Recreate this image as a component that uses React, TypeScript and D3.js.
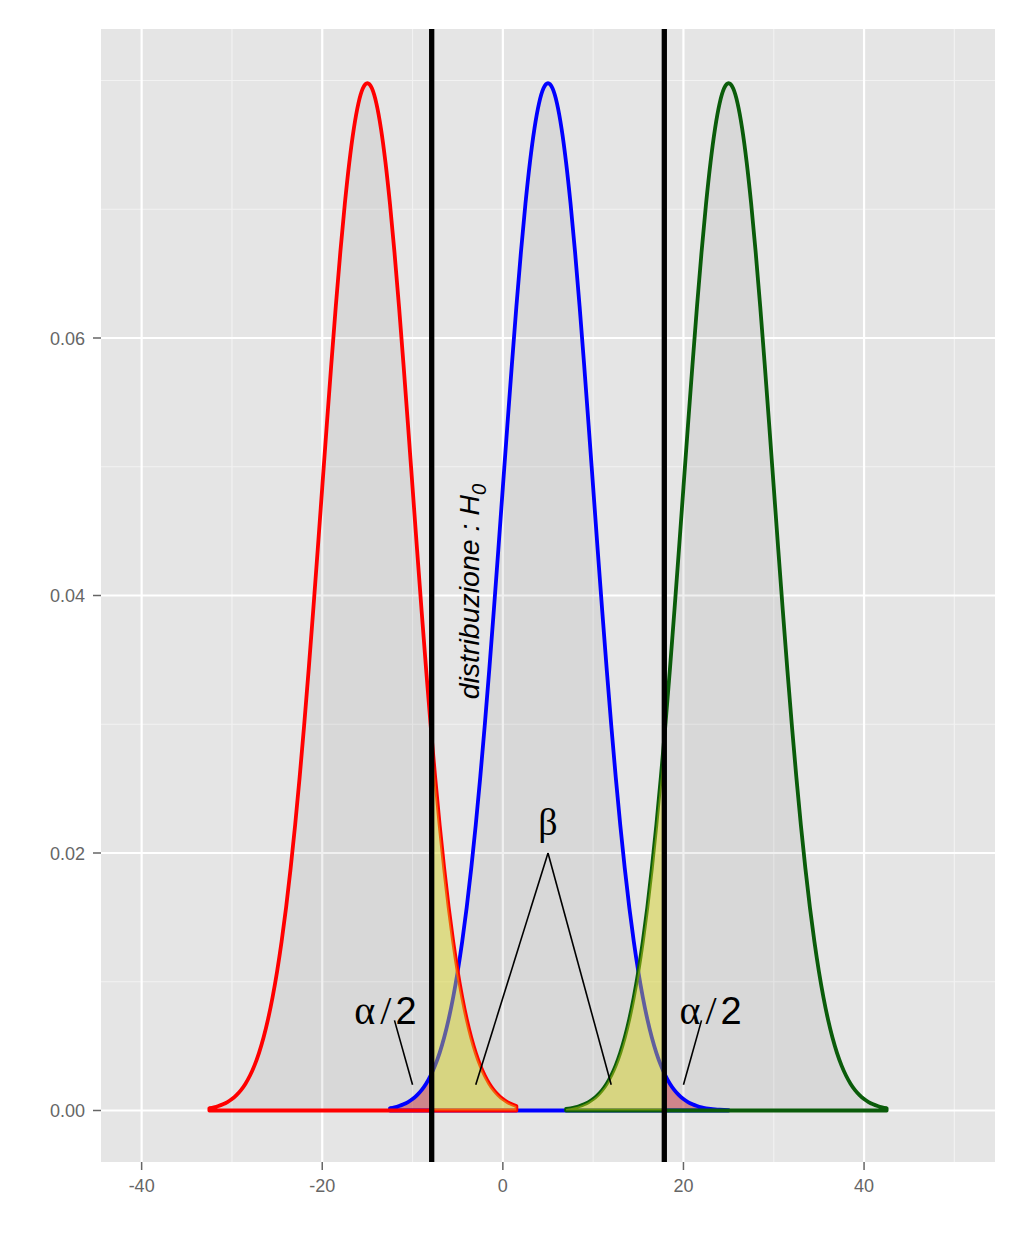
import React from "react";
import * as d3 from "d3";

// ---- data ----
const xTicks = [-40, -20, 0, 20, 40];
const xTickLabels = ["-40", "-20", "0", "20", "40"];
const xMinor = [-30, -10, 10, 30, 50];
const yTicks = [0, 0.02, 0.04, 0.06];
const yTickLabels = ["0.00", "0.02", "0.04", "0.06"];
const yMinor = [0.01, 0.03, 0.05, 0.07, 0.08];

// shared curve shape: distance from the centre -> density
const profileOffsets = [
  0, 0.5, 1, 1.5, 2, 2.5, 3, 3.5, 4, 4.5, 5, 5.5, 6, 6.5, 7, 7.5, 8, 8.5, 9,
  9.5, 10, 10.5, 11, 11.5, 12, 12.5, 13, 13.5, 14, 14.5, 15, 15.5, 16, 16.5,
  17, 17.5, 18, 18.5, 19, 19.5, 20,
];
const profileDensity = [
  0.079788, 0.079391, 0.078209, 0.076278, 0.073654, 0.070413, 0.066645,
  0.062451, 0.057938, 0.053217, 0.048394, 0.04357, 0.038837, 0.034274,
  0.029945, 0.025903, 0.022184, 0.01881, 0.01579, 0.013123, 0.010798,
  0.008797, 0.007095, 0.005665, 0.004479, 0.003506, 0.002717, 0.002084,
  0.001583, 0.001191, 0.000886, 0.000653, 0.000477, 0.000345, 0.000246,
  0.000175, 0.000122, 0.000085, 0.000058, 0.00004, 0.000027,
];

const seriesNames = ["sinistra", "H0", "destra"];
const seriesMeans = [-15, 5, 25];
const seriesFrom = [-17.5, -17.5, -18];
const seriesTo = [16.5, 20, 17.5];
const seriesColors = ["#ff0000", "#0000ff", "#0a5c0a"];
const drawOrder = [1, 0, 2];

const criticalValues = [-7.88, 17.88];

// ---- layout ----
const W = 1024;
const H = 1239;
const panel = { left: 101, right: 995, top: 29, bottom: 1162 };

const x = d3.scaleLinear().domain([-44.5, 54.5]).range([panel.left, panel.right]);
const y = d3.scaleLinear().domain([-0.004, 0.084]).range([panel.bottom, panel.top]);

type Pt = { x: number; y: number };

function seriesPoints(i: number): Pt[] {
  const pts: Pt[] = [];
  const m = seriesMeans[i];
  for (let k = profileOffsets.length - 1; k >= 1; k--) {
    const o = -profileOffsets[k];
    if (o >= seriesFrom[i] - 1e-9) pts.push({ x: m + o, y: profileDensity[k] });
  }
  for (let k = 0; k < profileOffsets.length; k++) {
    const o = profileOffsets[k];
    if (o <= seriesTo[i] + 1e-9) pts.push({ x: m + o, y: profileDensity[k] });
  }
  return pts;
}

const areaGen = d3
  .area<Pt>()
  .x((d) => x(d.x))
  .y0(() => y(0))
  .y1((d) => y(d.y))
  .curve(d3.curveMonotoneX);

const series = seriesNames.map((n, i) => ({
  name: n,
  color: seriesColors[i],
  path: areaGen(seriesPoints(i)) as string,
}));

export default function App() {
  const [lo, hi] = criticalValues;
  const axisCol = "#666666";
  const sans = "'Liberation Sans', Arial, sans-serif";
  const serif = "'Liberation Serif', 'Times New Roman', serif";
  return (
    <div style={{ position: "absolute", left: 0, top: 0 }}>
      <svg width={W} height={H} style={{ display: "block", background: "#fff" }}>
        <defs>
          <clipPath id="panelClip">
            <rect x={panel.left} y={panel.top} width={panel.right - panel.left} height={panel.bottom - panel.top} />
          </clipPath>
          <clipPath id="leftOfLo">
            <rect x={0} y={0} width={x(lo)} height={H} />
          </clipPath>
          <clipPath id="rightOfHi">
            <rect x={x(hi)} y={0} width={W - x(hi)} height={H} />
          </clipPath>
          <clipPath id="rightOfLo">
            <rect x={x(lo)} y={0} width={W - x(lo)} height={H} />
          </clipPath>
          <clipPath id="leftOfHi">
            <rect x={0} y={0} width={x(hi)} height={H} />
          </clipPath>
        </defs>

        {/* panel */}
        <rect x={panel.left} y={panel.top} width={panel.right - panel.left} height={panel.bottom - panel.top} fill="#e5e5e5" />
        {xMinor.map((v) => (
          <line key={"xm" + v} x1={x(v)} x2={x(v)} y1={panel.top} y2={panel.bottom} stroke="#f2f2f2" strokeWidth={1.1} />
        ))}
        {yMinor.map((v) => (
          <line key={"ym" + v} y1={y(v)} y2={y(v)} x1={panel.left} x2={panel.right} stroke="#f2f2f2" strokeWidth={1.1} />
        ))}
        {xTicks.map((v) => (
          <line key={"xg" + v} x1={x(v)} x2={x(v)} y1={panel.top} y2={panel.bottom} stroke="#ffffff" strokeWidth={2.2} />
        ))}
        {yTicks.map((v) => (
          <line key={"yg" + v} y1={y(v)} y2={y(v)} x1={panel.left} x2={panel.right} stroke="#ffffff" strokeWidth={2.2} />
        ))}

        <g clipPath="url(#panelClip)">
          {/* grey fills */}
          {drawOrder.map((i) => (
            <path key={"f" + i} d={series[i].path} fill="#7a7a7a" fillOpacity={0.11} stroke="none" />
          ))}
          {/* pink tails of H0 */}
          <path d={series[1].path} fill="#d01020" fillOpacity={0.38} clipPath="url(#leftOfLo)" />
          <path d={series[1].path} fill="#d01020" fillOpacity={0.38} clipPath="url(#rightOfHi)" />
          {/* outlines */}
          {drawOrder.map((i) => (
            <path key={"s" + i} d={series[i].path} fill="none" stroke={series[i].color} strokeWidth={3.8} strokeLinejoin="round" />
          ))}
          {/* yellow regions */}
          <path d={series[0].path} fill="#e4e017" fillOpacity={0.42} clipPath="url(#rightOfLo)" />
          <path d={series[2].path} fill="#e4e017" fillOpacity={0.42} clipPath="url(#leftOfHi)" />
          {/* critical values */}
          {criticalValues.map((v) => (
            <line key={"cv" + v} x1={x(v)} x2={x(v)} y1={panel.top} y2={panel.bottom} stroke="#000" strokeWidth={5.3} />
          ))}
          {/* annotation segments */}
          <line x1={x(5)} y1={y(0.02)} x2={x(-3)} y2={y(0.002)} stroke="#000" strokeWidth={1.6} />
          <line x1={x(5)} y1={y(0.02)} x2={x(12)} y2={y(0.002)} stroke="#000" strokeWidth={1.6} />
          <line x1={x(-12)} y1={y(0.007)} x2={x(-10)} y2={y(0.002)} stroke="#000" strokeWidth={1.6} />
          <line x1={x(22)} y1={y(0.007)} x2={x(20)} y2={y(0.002)} stroke="#000" strokeWidth={1.6} />
        </g>

        {/* annotation texts */}
        {[-13, 23].map((v) => (
          <text key={"a" + v} x={x(v)} y={y(0.0067)} textAnchor="middle" fill="#000">
            <tspan fontFamily={serif} fontSize={40}>α</tspan>
            <tspan fontFamily={serif} fontSize={40} dx={5}>/</tspan>
            <tspan fontFamily={sans} fontSize={38} dx={4}>2</tspan>
          </text>
        ))}
        <text x={x(5)} y={y(0.0214)} textAnchor="middle" fontSize={38} fontFamily={serif} fill="#000">β</text>
        <g transform={`translate(${x(-2.6)},${y(0.0403)}) rotate(-90)`}>
          <text x={0} y={0} textAnchor="middle" fontFamily={sans} fontStyle="italic" fontSize={28.5} fill="#000">
            distribuzione : H
            <tspan fontSize={20} dy={7}>0</tspan>
          </text>
        </g>

        {/* axes */}
        {xTicks.map((v, i) => (
          <g key={"xt" + v}>
            <line x1={x(v)} x2={x(v)} y1={panel.bottom} y2={panel.bottom + 8} stroke={axisCol} strokeWidth={1.5} />
            <text x={x(v)} y={panel.bottom + 30} textAnchor="middle" fontFamily={sans} fontSize={18} fill={axisCol}>
              {xTickLabels[i]}
            </text>
          </g>
        ))}
        {yTicks.map((v, i) => (
          <g key={"yt" + v}>
            <line x1={panel.left - 8} x2={panel.left} y1={y(v)} y2={y(v)} stroke={axisCol} strokeWidth={1.5} />
            <text x={panel.left - 16} y={y(v) + 6.5} textAnchor="end" fontFamily={sans} fontSize={18} fill={axisCol}>
              {yTickLabels[i]}
            </text>
          </g>
        ))}
      </svg>
    </div>
  );
}
